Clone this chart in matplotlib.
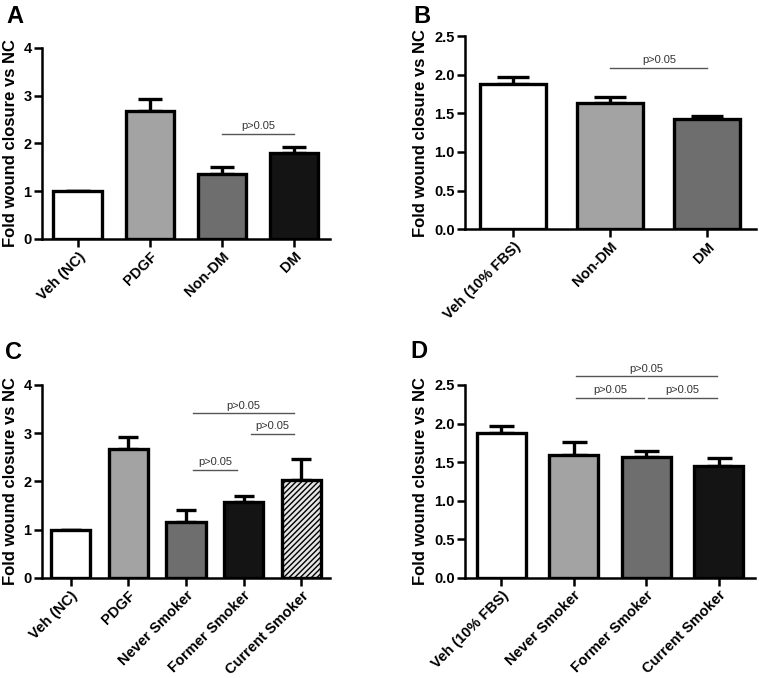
import matplotlib
matplotlib.use("Agg")
import matplotlib.pyplot as plt

plt.rcParams['font.family'] = ['Liberation Sans', 'DejaVu Sans']
plt.rcParams['hatch.linewidth'] = 1.0

# ---- data ----
cats_a = ["Veh (NC)", "PDGF", "Non-DM", "DM"]
vals_a = [1.0, 2.67, 1.35, 1.79]
errs_a = [0.0, 0.25, 0.15, 0.13]

cats_b = ["Veh (10% FBS)", "Non-DM", "DM"]
vals_b = [1.88, 1.63, 1.43]
errs_b = [0.09, 0.08, 0.04]

cats_c = ["Veh (NC)", "PDGF", "Never Smoker", "Former Smoker", "Current Smoker"]
vals_c = [1.0, 2.67, 1.17, 1.57, 2.04]
errs_c = [0.0, 0.25, 0.23, 0.12, 0.42]

cats_d = ["Veh (10% FBS)", "Never Smoker", "Former Smoker", "Current Smoker"]
vals_d = [1.88, 1.59, 1.57, 1.45]
errs_d = [0.09, 0.17, 0.07, 0.10]

# significance brackets: (i, j, y)
sig_a = [(2, 3, 2.2)]
sig_b = [(1, 2, 2.09)]
sig_c = [(2, 3, 2.23), (3, 4, 2.98), (2, 4, 3.41)]
sig_d = [(1, 2, 2.33), (2, 3, 2.33), (1, 3, 2.61)]

WHITE, LIGHT, DARK, BLACK = "#ffffff", "#a3a3a3", "#6e6e6e", "#141414"

fig = plt.figure(figsize=(7.59, 6.78), dpi=100)

def panel(rect, cats, vals, errs, colors, ylim, yticks, ytl, sigs, capsize,
          hatches=None, inset=0.12):
    ax = fig.add_axes(rect)
    x = list(range(len(cats)))
    bars = ax.bar(x, vals, width=0.68, color=colors, edgecolor="black",
                  linewidth=2.4, zorder=3)
    if hatches:
        for b, h in zip(bars, hatches):
            if h:
                b.set_hatch(h)
    ax.errorbar(x, vals, yerr=[[0] * len(vals), errs], fmt="none", ecolor="black",
                elinewidth=2.4, capsize=capsize, capthick=2.4, zorder=2)
    ax.set_xlim(-0.5, len(cats) - 0.5)
    ax.set_ylim(*ylim)
    ax.set_yticks(yticks)
    ax.set_yticklabels(ytl, fontsize=10.5, fontweight="bold")
    ax.set_xticks(x)
    ax.set_xticklabels(cats, rotation=45, ha="right", rotation_mode="anchor",
                       fontsize=10.5, fontweight="bold")
    for s in ["top", "right"]:
        ax.spines[s].set_visible(False)
    for s in ["left", "bottom"]:
        ax.spines[s].set_linewidth(1.8)
    ax.tick_params(axis="both", width=1.8, length=6, pad=1.5)
    ax.set_ylabel("Fold wound closure vs NC", fontsize=12, fontweight="bold", labelpad=4)
    for i, j, y in sigs:
        ax.plot([i + inset, j - inset], [y, y], color="#555555", lw=1.0, clip_on=False)
        ax.text((i + j) / 2, y + (ylim[1] - ylim[0]) * 0.015, "p>0.05", ha="center",
                va="bottom", fontsize=8, color="#333333", clip_on=False)
    return ax

panel([0.0553, 0.6475, 0.3795, 0.2821], cats_a, vals_a, errs_a,
      [WHITE, LIGHT, DARK, BLACK], (0, 4), [0, 1, 2, 3, 4],
      ["0", "1", "2", "3", "4"], sig_a, 8.6, inset=0.0)
panel([0.6126, 0.6618, 0.3831, 0.2851], cats_b, vals_b, errs_b,
      [WHITE, LIGHT, DARK], (0, 2.5), [0, 0.5, 1.0, 1.5, 2.0, 2.5],
      ["0.0", "0.5", "1.0", "1.5", "2.0", "2.5"], sig_b, 11.7, inset=0.0)
panel([0.0553, 0.1475, 0.3795, 0.2847], cats_c, vals_c, errs_c,
      [WHITE, LIGHT, DARK, BLACK, "#e6e6e6"], (0, 4), [0, 1, 2, 3, 4],
      ["0", "1", "2", "3", "4"], sig_c, 7.2,
      hatches=[None, None, None, None, "//////"], inset=0.12)
panel([0.6126, 0.1480, 0.3821, 0.2842], cats_d, vals_d, errs_d,
      [WHITE, LIGHT, DARK, BLACK], (0, 2.5), [0, 0.5, 1.0, 1.5, 2.0, 2.5],
      ["0.0", "0.5", "1.0", "1.5", "2.0", "2.5"], sig_d, 9.0, inset=0.03)

for letter, (fx, fy) in zip("ABCD", [(0.008, 0.993), (0.545, 0.993),
                                     (0.006, 0.497), (0.541, 0.499)]):
    fig.text(fx, fy, letter, fontsize=17, fontweight="bold", ha="left", va="top")

fig.savefig("out.png", dpi=100)
